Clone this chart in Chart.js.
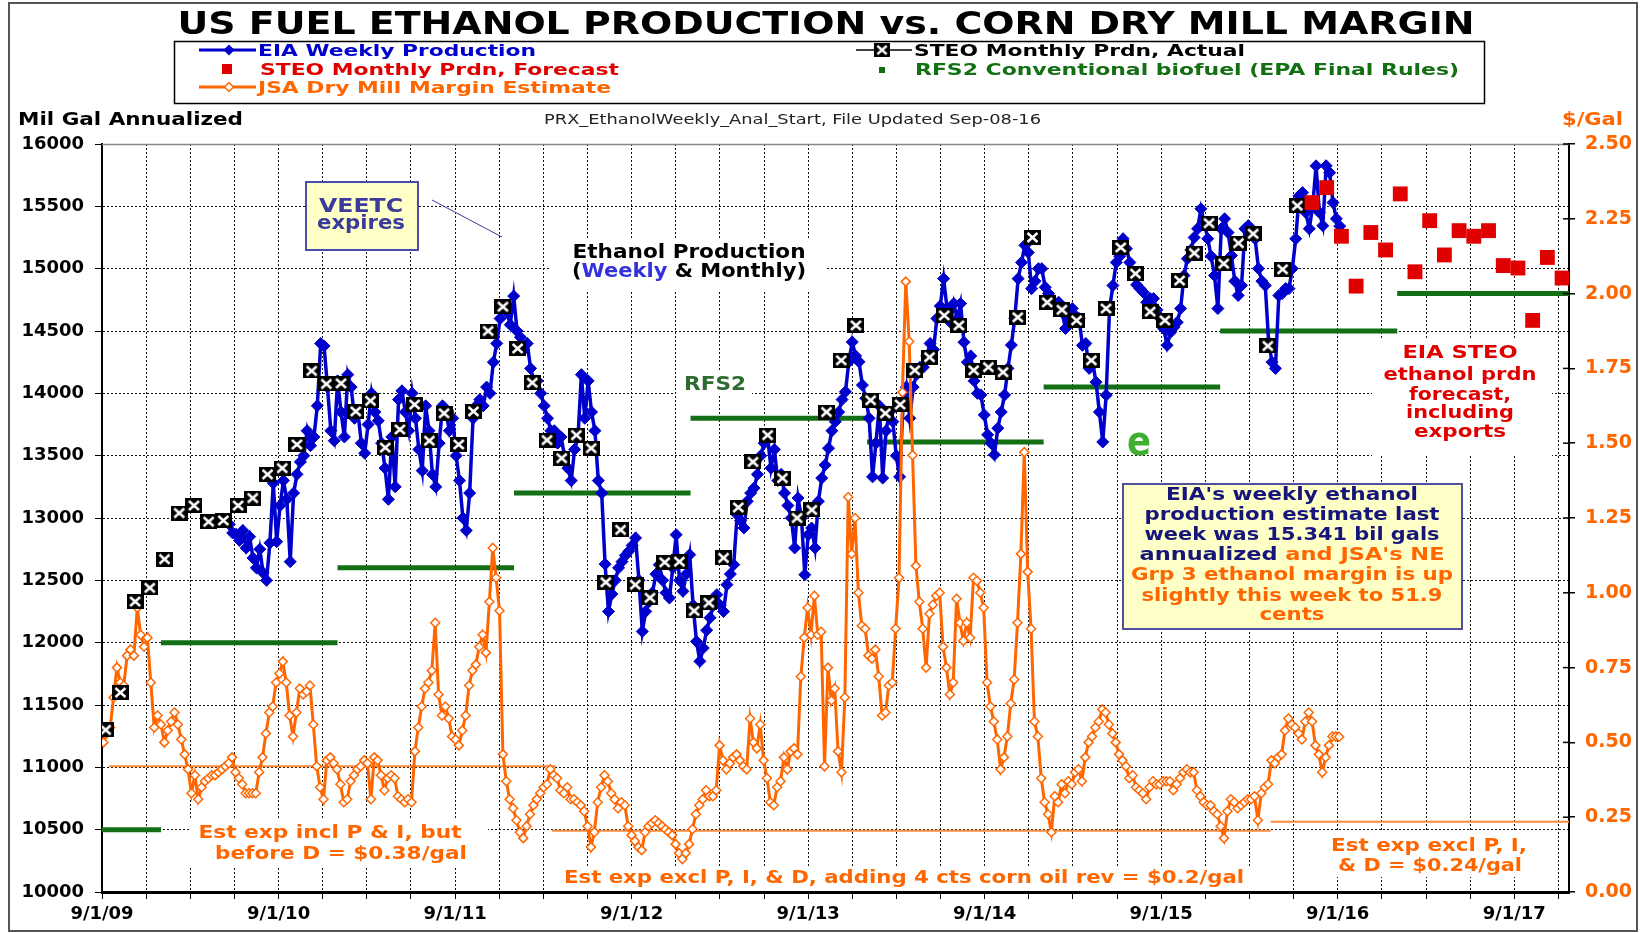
<!DOCTYPE html>
<html><head><meta charset="utf-8">
<script src="https://cdn.jsdelivr.net/npm/chart.js@4.4.1/dist/chart.umd.min.js"></script>
<style>html,body{margin:0;padding:0;background:#fff}canvas{display:block}</style>
</head><body>
<canvas id="c" width="1645" height="933"></canvas>
<script>
// ---------------- DATA (x in years since 9/1/09) ----------------
const xTickLabels = ['9/1/09','9/1/10','9/1/11','9/1/12','9/1/13','9/1/14','9/1/15','9/1/16','9/1/17'];
const leftTicks = [10000,10500,11000,11500,12000,12500,13000,13500,14000,14500,15000,15500,16000];
const rightTicks = [0,0.25,0.5,0.75,1,1.25,1.5,1.75,2,2.25,2.5];

// EIA weekly production (Mil gal annualized), weekly from late May 2010
const eiaStart = 0.721;
const eiaWeekly = [
12950,12880,
12870,12820,12900,12760,12850,12680,12600,12750,12560,12500,12800,13280,12810,
13100,13300,13150,12650,13200,13350,13450,13500,13700,13580,13650,13900,14400,14380,14050,13700,13620,
14100,13850,13650,14150,14050,13800,13850,13600,13520,13750,14000,13850,13780,13600,13400,13150,13650,13250,13950,14020,13850,13700,
14000,13800,13550,13380,13900,13700,13350,13250,13600,13900,13850,13700,13800,13500,13300,13000,12900,13200,13800,13900,13950,13900,14050,14000,14250,14400,14600,14700,14650,14550,14780,
14500,14450,14350,14400,14200,14100,14100,14000,13900,13800,13700,13700,13600,13650,13500,13400,13300,13550,13650,14150,13800,14100,13850,13700,13300,13200,
12630,12250,12390,12500,12600,12650,12700,12733,12780,12840,12500,12090,12250,12330,12400,12550,12625,12500,12400,12358,12600,12866,12500,12412,12550,12706,12300,12010,11850,11957,12100,12200,12300,12385,12300,12250,12465,12550,12626,13027,12980,12920,13134,13200,13240,
13350,13500,13600,13650,13400,13550,13300,13350,13200,13100,13000,12760,13160,13000,12545,12866,12920,12760,13134,13320,13425,13560,13700,13773,13850,13950,14013,14253,14412,14300,14253,14066,13960,13800,
13330,13600,13900,13320,13700,13850,13773,13500,13330,13900,14050,13800,14050,14150,14210,14210,14300,14400,14350,14600,14700,14920,14680,14570,14720,14600,14720,14410,14250,14300,14100,14000,13987,13827,13667,13600,13507,
13720,13850,13987,14200,14387,14600,14920,15050,15187,15130,14840,14900,15000,15000,14850,14800,14750,14700,14730,14650,14520,14600,14680,14620,14600,14385,14400,14200,14250,14090,13850,13610,
13985,14680,14865,15050,15100,15240,15160,15050,14950,14870,14840,14810,14730,14760,14760,14670,14600,14520,14385,14490,14530,14570,14680,14945,15080,15150,15250,15320,15480,15370,15240,15100,14945,14680,
15320,15400,15290,15105,14900,14785,14865,15320,15345,15300,15240,15000,14900,14865,14410,14250,14200,14785,14800,14840,14840,15000,15240,15585,15610,15450,15320,15500,15825,15450,15345,15825,15770,15530,15400,15341
];

// JSA dry mill margin ($/gal), weekly from Sep 4 2009
const jsaStart = 0.008;
const jsaMargin = [
0.50,0.53,0.55,0.65,0.75,0.70,0.69,0.79,0.81,0.79,0.95,0.86,0.82,0.85,0.70,0.55,0.59,0.56,0.50,0.54,0.57,0.60,0.56,0.51,0.46,0.41,0.33,0.39,0.31,0.35,0.37,0.38,0.39,0.39,0.40,0.41,0.42,0.43,0.45,0.40,0.38,0.36,0.33,0.33,0.33,0.33,0.40,0.45,0.53,0.60,0.62,0.70,
0.73,0.77,0.70,0.59,0.52,0.60,0.68,0.66,0.67,0.69,0.56,0.42,0.35,0.31,0.44,0.45,0.43,0.41,0.36,0.30,0.31,0.37,0.39,0.41,0.42,0.44,0.43,0.31,0.45,0.44,0.39,0.34,0.38,0.39,0.38,0.32,0.31,0.30,0.31,0.30,0.47,0.55,0.62,0.68,0.70,0.74,0.90,0.66,0.59,0.62,0.58,0.52,
0.51,0.49,0.54,0.59,0.69,0.74,0.76,0.82,0.86,0.80,0.97,1.15,1.05,0.94,0.46,0.37,0.31,0.28,0.24,0.20,0.18,0.22,0.26,0.29,0.31,0.33,0.35,0.36,0.41,0.39,0.38,0.34,0.33,0.35,0.31,0.31,0.30,0.29,0.27,0.22,0.15,0.20,0.30,0.35,0.39,0.37,0.33,0.31,0.28,0.30,0.29,0.22,
0.19,0.17,0.15,0.14,0.20,0.22,0.23,0.24,0.23,0.22,0.21,0.20,0.19,0.16,0.13,0.11,0.13,0.16,0.21,0.26,0.29,0.31,0.34,0.32,0.32,0.34,0.49,0.44,0.41,0.43,0.45,0.46,0.44,0.42,0.41,0.58,0.50,0.48,0.56,0.44,0.38,0.30,0.29,0.35,0.37,0.45,0.41,0.47,0.48,0.46,0.72,0.85,
0.95,0.86,0.99,0.86,0.87,0.42,0.75,0.64,0.68,0.47,0.40,0.65,1.32,1.13,1.25,1.00,0.89,0.88,0.79,0.78,0.81,0.72,0.59,0.60,0.69,0.70,0.88,1.05,1.67,2.04,1.84,1.46,1.09,0.97,0.88,0.75,0.93,0.96,0.99,1.00,0.82,0.75,0.66,0.70,0.98,0.90,0.84,0.90,0.85,1.05,1.04,1.00,
0.95,0.70,0.62,0.57,0.51,0.41,0.45,0.52,0.63,0.71,0.90,1.13,1.47,1.07,0.88,0.57,0.52,0.38,0.30,0.26,0.20,0.32,0.30,0.36,0.33,0.37,0.36,0.40,0.41,0.37,0.45,0.50,0.52,0.55,0.57,0.61,0.60,0.56,0.53,0.50,0.46,0.44,0.42,0.38,0.39,0.35,0.34,0.33,0.31,0.35,0.37,0.36,
0.36,0.37,0.37,0.37,0.34,0.36,0.38,0.40,0.41,0.40,0.40,0.34,0.32,0.30,0.29,0.29,0.27,0.26,0.22,0.18,0.27,0.31,0.30,0.28,0.29,0.30,0.31,0.31,0.32,0.24,0.33,0.35,0.36,0.44,0.43,0.45,0.46,0.54,0.58,0.56,0.55,0.53,0.51,0.57,0.60,0.57,0.49,0.46,0.40,0.45,0.49,0.52,0.52,0.519
];

// STEO monthly actual, Sep 2009 .. Jun 2016 (month index 0 = Sep 2009)
const steoActual = [
11300,11600,12330,12440,12670,13040,13100,12970,12980,13100,13160,13350,
13400,13590,14180,14075,14080,13855,13940,13565,13710,13910,13620,13840,
13590,13855,14500,14695,14360,14085,13625,13480,13665,13560,12485,12905,
12465,12360,12645,12650,12255,12320,12680,13085,13450,13665,13320,13000,
13065,13850,14265,14545,13945,13840,13910,14185,14290,14625,14545,14185,
14210,14170,14610,15250,14730,14670,14585,14265,14680,15170,14960,14655,
14585,14905,15125,15365,15040,15205,15280,14380,14995,15505
];
// STEO monthly forecast, Jul 2016 .. Dec 2017 (month index 82..99)
const steoForecastStartMonth = 82;
const steoForecast = [15530,15650,15260,14860,15290,15150,15600,14975,15385,15110,15305,15260,15305,15025,15005,14585,15090,14925];

// RFS2 conventional biofuel mandate by calendar year
const rfsFrom = [0,0.334,1.334,2.334,3.334,4.334,5.334,6.334,7.337];
const rfsTo   = [0.334,1.334,2.334,3.334,4.334,5.334,6.334,7.337,8.31];
const rfsValue = [10500,12000,12600,13200,13800,13610,14050,14500,14800];

// Estimated expense reference lines ($/gal)
const refFrom = [0.04,2.55,6.62];
const refTo   = [2.57,6.62,8.31];
const refValue = [0.42,0.205,0.235];

// ---------------- helpers ----------------
const weekYr = 7/365;
const monthX = k => (k + 0.25) / 12;
const quarterTicks = [];
for (let q = 0; q <= 33; q++) quarterTicks.push(q * 0.25);

function segs(from, to, val) {
  const out = [];
  for (let i = 0; i < val.length; i++) {
    out.push({x: from[i], y: val[i]}, {x: to[i], y: val[i]}, {x: to[i], y: null});
  }
  return out;
}

// STEO actual marker (black square with white X)
const xm = document.createElement('canvas');
xm.width = 17; xm.height = 15;
(function(){
  const g = xm.getContext('2d');
  g.fillStyle = '#000'; g.fillRect(0, 0, 17, 15);
  g.strokeStyle = '#fff'; g.lineWidth = 2.5;
  g.beginPath(); g.moveTo(3.5, 3); g.lineTo(13.5, 12); g.moveTo(13.5, 3); g.lineTo(3.5, 12); g.stroke();
})();

const BLUE = '#0000CC', ORANGE = '#FF6600', GREEN = '#136F13', RED = '#E00000', NAVY = '#16167A';

function runs(ctx, parts, x, y, size, width, align, weight) {
  ctx.save();
  ctx.font = (weight || 'bold') + ' ' + size + 'px "DejaVu Sans"';
  let total = 0;
  for (const p of parts) total += ctx.measureText(p[0]).width;
  const w = width || total;
  const sx = w / total;
  const sx0 = align === 'center' ? x - w / 2 : (align === 'right' ? x - w : x);
  ctx.translate(sx0, y); ctx.scale(sx, 1);
  ctx.textAlign = 'left'; ctx.textBaseline = 'alphabetic';
  let cx = 0;
  for (const p of parts) { ctx.fillStyle = p[1]; ctx.fillText(p[0], cx, 0); cx += ctx.measureText(p[0]).width; }
  ctx.restore();
}
function diamond(ctx, x, y, r, fill, stroke, lw) {
  ctx.beginPath(); ctx.moveTo(x, y - r); ctx.lineTo(x + r, y); ctx.lineTo(x, y + r); ctx.lineTo(x - r, y); ctx.closePath();
  ctx.fillStyle = fill; ctx.fill();
  if (stroke) { ctx.lineWidth = lw; ctx.strokeStyle = stroke; ctx.stroke(); }
}

const deco = {
  id: 'deco',
  beforeDraw(chart) {
    const c = chart.ctx; c.save(); c.fillStyle = '#fff'; c.fillRect(0, 0, chart.width, chart.height); c.restore();
  },
  beforeDatasetsDraw(chart) {
    const c = chart.ctx; c.save(); c.fillStyle = '#fff';
    c.fillRect(551, 238, 275, 52);     // Ethanol Production label
    c.fillRect(676, 372, 76, 24);      // RFS2 label
    c.fillRect(1372, 340, 180, 116);   // EIA STEO label
    c.fillRect(189, 818, 299, 48);     // left bottom note
    c.fillRect(556, 866, 697, 24);     // middle bottom note
    c.fillRect(1317, 830, 220, 47);    // right bottom note
    c.restore();
  },
  afterDraw(chart) {
    const c = chart.ctx;
    const ca = chart.chartArea;
    c.save();
    // plot top frame
    c.strokeStyle = '#888'; c.lineWidth = 1.5;
    c.beginPath(); c.moveTo(ca.left, ca.top + 0.5); c.lineTo(ca.right, ca.top + 0.5); c.stroke();
    // inner ticks on right axis
    const y2 = chart.scales.y2;
    c.strokeStyle = '#000'; c.lineWidth = 1.5;
    for (const t of rightTicks) { const py = y2.getPixelForValue(t); c.beginPath(); c.moveTo(ca.right - 6, py); c.lineTo(ca.right, py); c.stroke(); }
    // outer border
    c.strokeStyle = '#555'; c.lineWidth = 2;
    c.strokeRect(9, 3, 1628, 928);

    // Title
    runs(c, [['US FUEL ETHANOL PRODUCTION vs. CORN DRY MILL MARGIN', '#000']], 826, 34, 32, 1297, 'center');

    // Legend box
    c.strokeStyle = '#000'; c.lineWidth = 1.5;
    c.strokeRect(174.5, 41.5, 1310, 62);
    c.lineWidth = 3;
    c.strokeStyle = BLUE; c.beginPath(); c.moveTo(199, 50); c.lineTo(256, 50); c.stroke();
    diamond(c, 229, 50, 5.5, BLUE);
    runs(c, [['EIA Weekly Production', BLUE]], 258, 56, 16, 278, 'left');
    c.fillStyle = RED; c.fillRect(222, 64, 10, 10);
    runs(c, [['STEO Monthly Prdn, Forecast', RED]], 260, 75, 16, 359, 'left');
    c.strokeStyle = ORANGE; c.lineWidth = 3; c.beginPath(); c.moveTo(199, 87); c.lineTo(256, 87); c.stroke();
    diamond(c, 229, 87, 4.5, '#fff', ORANGE, 1.5);
    runs(c, [['JSA Dry Mill Margin Estimate', ORANGE]], 258, 93, 16, 353, 'left');
    c.strokeStyle = '#000'; c.lineWidth = 1.5; c.beginPath(); c.moveTo(856, 50); c.lineTo(912, 50); c.stroke();
    c.drawImage(xm, 874, 43, 16, 14);
    runs(c, [['STEO Monthly Prdn, Actual', '#000']], 914, 56, 16, 331, 'left');
    c.fillStyle = GREEN; c.fillRect(879, 67, 6, 6);
    runs(c, [['RFS2 Conventional biofuel (EPA Final Rules)', GREEN]], 915, 75, 16, 544, 'left');

    // axis titles
    runs(c, [['Mil Gal Annualized', '#000']], 18, 125, 18, 225, 'left');
    runs(c, [['PRX_EthanolWeekly_Anal_Start, File Updated Sep-08-16', '#222']], 544, 124, 14, 497, 'left', 'normal');
    runs(c, [['$/Gal', ORANGE]], 1562, 125, 18, 61, 'left');

    // VEETC box
    c.fillStyle = '#FFFFC8'; c.fillRect(306, 182, 112, 68);
    c.strokeStyle = '#4B4BA8'; c.lineWidth = 2; c.strokeRect(306, 182, 112, 68);
    runs(c, [['VEETC', '#3B3B9C']], 361, 212, 20, 84, 'center');
    runs(c, [['expires', '#3B3B9C']], 361, 229, 20, 88, 'center');
    c.strokeStyle = '#3B3B9C'; c.lineWidth = 1;
    c.beginPath(); c.moveTo(432, 200); c.lineTo(502, 237); c.stroke();

    // Ethanol production label
    runs(c, [['Ethanol Production', '#000']], 689, 258, 19, 233, 'center');
    runs(c, [['(', '#000'], ['Weekly', '#3333DD'], [' & Monthly)', '#000']], 689, 277, 19, 234, 'center');
    runs(c, [['RFS2', '#2F6B2F']], 715, 390, 19, 62, 'center');
    runs(c, [['e', '#3FAF2F']], 1139, 455, 40, 24, 'center');

    // EIA STEO label
    const stL = [['EIA STEO', 115], ['ethanol prdn', 153], ['forecast,', 102], ['including', 108], ['exports', 92]];
    const stY = [358, 380, 400, 418, 437];
    stL.forEach((s, i) => runs(c, [[s[0], RED]], 1460, stY[i], 18, s[1], 'center'));

    // EIA box
    c.fillStyle = '#FFFFC8'; c.fillRect(1123, 484, 339, 145);
    c.strokeStyle = '#5050A0'; c.lineWidth = 2; c.strokeRect(1123, 484, 339, 145);
    const bx = 1292;
    runs(c, [["EIA's weekly ethanol", NAVY]], bx, 500, 17, 252, 'center');
    runs(c, [['production estimate last', NAVY]], bx, 520, 17, 295, 'center');
    runs(c, [['week was 15.341 bil gals', NAVY]], bx, 540, 17, 295, 'center');
    runs(c, [['annualized', NAVY], [" and JSA's NE", ORANGE]], bx, 560, 17, 305, 'center');
    runs(c, [['Grp 3 ethanol margin is up', ORANGE]], bx, 580, 17, 322, 'center');
    runs(c, [['slightly this week to 51.9', ORANGE]], bx, 601, 17, 301, 'center');
    runs(c, [['cents', ORANGE]], bx, 620, 17, 65, 'center');

    // bottom notes
    runs(c, [['Est exp incl P & I, but', ORANGE]], 330, 838, 17, 263, 'center');
    runs(c, [['before D = $0.38/gal', ORANGE]], 341, 859, 17, 252, 'center');
    runs(c, [['Est exp excl P, I, & D, adding 4 cts corn oil rev = $0.2/gal', ORANGE]], 904, 883, 17, 680, 'center');
    runs(c, [['Est exp excl P, I,', ORANGE]], 1429, 851, 17, 196, 'center');
    runs(c, [['& D = $0.24/gal', ORANGE]], 1430, 871, 17, 184, 'center');
    c.restore();
  }
};

Chart.defaults.font.family = '"DejaVu Sans"';

const tickFont = {family: '"DejaVu Sans"', weight: 'bold', size: 18};

new Chart(document.getElementById('c'), {
  type: 'line',
  data: {
    datasets: [
      { label: 'RFS2 Conventional biofuel (EPA Final Rules)', data: segs(rfsFrom, rfsTo, rfsValue), yAxisID: 'y',
        borderColor: GREEN, borderWidth: 5, pointRadius: 0, spanGaps: false, order: 7 },
      { label: 'Est exp', data: segs(refFrom, refTo, refValue), yAxisID: 'y2',
        borderColor: '#FF8A3D', borderWidth: 2, pointRadius: 0, spanGaps: false, order: 6 },
      { label: 'EIA Weekly Production', data: eiaWeekly.map((v, i) => ({x: eiaStart + i * weekYr, y: v})), yAxisID: 'y',
        borderColor: BLUE, borderWidth: 3.5, pointStyle: 'rectRot', pointRadius: 6,
        pointBackgroundColor: BLUE, pointBorderColor: BLUE, pointBorderWidth: 1, order: 5 },
      { label: 'JSA Dry Mill Margin Estimate', data: jsaMargin.map((v, i) => ({x: jsaStart + i * weekYr, y: v})), yAxisID: 'y2',
        borderColor: ORANGE, borderWidth: 3, pointStyle: 'rectRot', pointRadius: 4.5,
        pointBackgroundColor: '#fff', pointBorderColor: ORANGE, pointBorderWidth: 1.5, order: 4 },
      { label: 'STEO Monthly Prdn, Actual', data: steoActual.map((v, k) => ({x: monthX(k), y: v})), yAxisID: 'y',
        showLine: false, pointStyle: xm, pointRadius: 8, order: 2 },
      { label: 'STEO Monthly Prdn, Forecast', data: steoForecast.map((v, k) => ({x: monthX(steoForecastStartMonth + k), y: v})), yAxisID: 'y',
        showLine: false, pointStyle: 'rect', pointRadius: 10.5, pointBackgroundColor: RED, pointBorderColor: RED, pointBorderWidth: 0, order: 1 }
    ]
  },
  options: {
    responsive: false, animation: false, devicePixelRatio: 1,
    layout: { padding: { top: 144, left: 0, right: 0, bottom: 0 } },
    plugins: { legend: { display: false }, tooltip: { enabled: false } },
    elements: { line: { tension: 0 } },
    scales: {
      x: {
        type: 'linear', min: 0, max: 8.31,
        afterBuildTicks: s => { s.ticks = quarterTicks.map(v => ({value: v})); },
        afterFit: s => { s.height = 41; },
        ticks: { autoSkip: false, maxRotation: 0, font: tickFont, color: '#000', padding: 5,
          callback: v => Number.isInteger(v) ? xTickLabels[v] : '' },
        grid: { color: '#111', lineWidth: 1, drawTicks: true, tickLength: 7, tickColor: '#000' },
        border: { display: true, color: '#000', width: 3, dash: [2, 2] }
      },
      y: {
        position: 'left', min: 10000, max: 16000,
        afterBuildTicks: s => { s.ticks = leftTicks.map(v => ({value: v})); },
        afterFit: s => { s.width = 102; },
        ticks: { font: tickFont, color: '#000', padding: 11, callback: v => String(v) },
        grid: { color: '#111', lineWidth: 1, drawTicks: true, tickLength: 7, tickColor: '#000' },
        border: { display: true, color: '#000', width: 2, dash: [2, 2] }
      },
      y2: {
        position: 'right', min: 0, max: 2.5,
        afterBuildTicks: s => { s.ticks = rightTicks.map(v => ({value: v})); },
        afterFit: s => { s.width = 76; },
        ticks: { font: {family: '"DejaVu Sans"', weight: 'bold', size: 19}, color: ORANGE, padding: 10,
          callback: v => v.toFixed(2) },
        grid: { drawOnChartArea: false, drawTicks: true, tickLength: 6, tickColor: '#000', lineWidth: 1.5 },
        border: { display: true, color: '#000', width: 2 }
      }
    }
  },
  plugins: [deco]
});
</script>
</body></html>
